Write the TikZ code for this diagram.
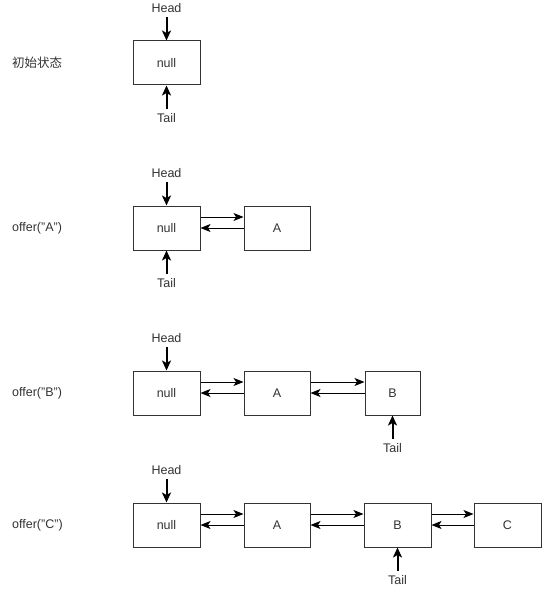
\documentclass[tikz,border=0pt]{standalone}
\usepackage{fontspec}
\setmainfont{Liberation Sans}
\newfontfamily\cjk{Noto Sans CJK SC}
\usetikzlibrary{arrows.meta,positioning}
\definecolor{boxline}{HTML}{333333}
\definecolor{inktext}{HTML}{333333}

\begin{document}
\begin{tikzpicture}[x=1pt,y=-1pt,font=\fontsize{12.5}{14}\selectfont,
  cell/.style={draw=boxline,line width=1pt,minimum width=67pt,minimum height=44pt,inner sep=0pt,text=inktext},
  pointer/.style={-{Stealth[length=10pt,width=9pt,inset=2.5pt]},line width=2pt,shorten <=3pt},
  link/.style={-{Stealth[length=10pt,width=8pt,inset=2.5pt]},line width=1pt},
  caption/.style={anchor=west,text=inktext,inner sep=0pt},
  tag/.style={text=inktext,inner sep=1pt}]
\useasboundingbox (0,0) rectangle (549,596);
% 初始状态
\node[caption] (s0) at (12,63) {\cjk 初始状态};
\node[cell] (n0) at (166.5,63) {null};
\node[tag] (h0) at (166.5,8) {Head};
\node[tag] (t0) at (166.5,118) {Tail};
\draw[pointer] (h0) -- (n0);
\draw[pointer] (t0) -- (n0);
% offer("A")
\node[caption] (s1) at (12,228) {offer("A")};
\node[cell] (n1) at (166.5,228) {null};
\node[cell,minimum width=66pt] (a1) at (277,228) {A};
\node[tag] (h1) at (166.5,173) {Head};
\node[tag] (t1) at (166.5,283) {Tail};
\draw[pointer] (h1) -- (n1);
\draw[pointer] (t1) -- (n1);
\draw[link] ([yshift=11pt]n1.east) -- ([yshift=11pt]a1.west);
\draw[link] (a1.west) -- (n1.east);
% offer("B")
\node[caption] (s2) at (12,393) {offer("B")};
\node[cell] (n2) at (166.5,393) {null};
\node[cell,minimum width=66pt] (a2) at (277,393) {A};
\node[cell,minimum width=55pt] (b2) at (392.5,393) {B};
\node[tag] (h2) at (166.5,338) {Head};
\node[tag] (t2) at (392.5,448) {Tail};
\draw[pointer] (h2) -- (n2);
\draw[pointer] (t2) -- (b2);
\draw[link] ([yshift=11pt]n2.east) -- ([yshift=11pt]a2.west);
\draw[link] (a2.west) -- (n2.east);
\draw[link] ([yshift=11pt]a2.east) -- ([yshift=11pt]b2.west);
\draw[link] (b2.west) -- (a2.east);
% offer("C")
\node[caption] (s3) at (12,525) {offer("C")};
\node[cell] (n3) at (166.5,525) {null};
\node[cell,minimum width=66pt] (a3) at (277,525) {A};
\node[cell] (b3) at (397.5,525) {B};
\node[cell] (c3) at (507.5,525) {C};
\node[tag] (h3) at (166.5,470) {Head};
\node[tag] (t3) at (397.5,580) {Tail};
\draw[pointer] (h3) -- (n3);
\draw[pointer] (t3) -- (b3);
\draw[link] ([yshift=11pt]n3.east) -- ([yshift=11pt]a3.west);
\draw[link] (a3.west) -- (n3.east);
\draw[link] ([yshift=11pt]a3.east) -- ([yshift=11pt]b3.west);
\draw[link] (b3.west) -- (a3.east);
\draw[link] ([yshift=11pt]b3.east) -- ([yshift=11pt]c3.west);
\draw[link] (c3.west) -- (b3.east);
\end{tikzpicture}
\end{document}
